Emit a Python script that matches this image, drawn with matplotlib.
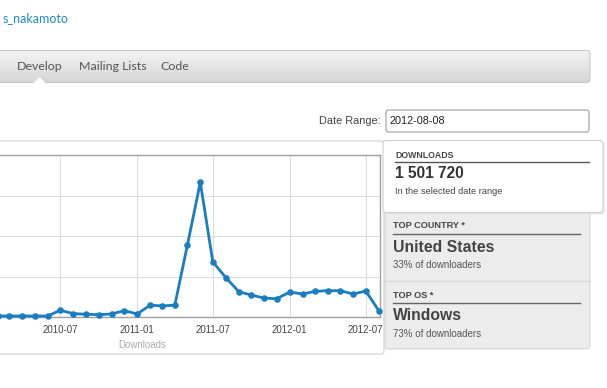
import numpy as np
import matplotlib
matplotlib.use("Agg")
import matplotlib.pyplot as plt
import matplotlib.dates as mdates
from matplotlib.patches import FancyBboxPatch, Polygon
from matplotlib.colors import LinearSegmentedColormap
from datetime import date

# monthly downloads (first of each month)
months = ["2010-01", "2010-02", "2010-03", "2010-04", "2010-05", "2010-06",
          "2010-07", "2010-08", "2010-09", "2010-10", "2010-11", "2010-12",
          "2011-01", "2011-02", "2011-03", "2011-04", "2011-05", "2011-06",
          "2011-07", "2011-08", "2011-09", "2011-10", "2011-11", "2011-12",
          "2012-01", "2012-02", "2012-03", "2012-04", "2012-05", "2012-06",
          "2012-07", "2012-08"]
downloads = [2500, 2500, 2500, 2500, 2500, 2500,
             16700, 8300, 6700, 5800, 7500, 15800,
             7500, 29200, 27500, 29200, 176700, 332500,
             135800, 97500, 62500, 54200, 46700, 45000,
             61700, 56700, 63300, 65000, 65000, 56700,
             64200, 15800]
tick_labels = ["2010-07", "2011-01", "2011-07", "2012-01", "2012-07"]

user = "s_nakamoto"
nav_items = ["Develop", "Mailing Lists", "Code"]
date_range = "2012-08-08"
total_downloads = "1 501 720"
top_country, country_share = "United States", "33% of downloaders"
top_os, os_share = "Windows", "73% of downloaders"

W, H = 607, 388
fig = plt.figure(figsize=(W / 100, H / 100), dpi=100)
fig.patch.set_facecolor("white")

# page layer in pixel coordinates
bg = fig.add_axes([0, 0, 1, 1])
bg.set_xlim(0, W)
bg.set_ylim(H, 0)
bg.axis("off")

SANS = ["Liberation Sans", "DejaVu Sans"]
NAV = ["Lato", "DejaVu Sans"]

bg.text(3, 18, user, color="#1f8ac4", fontsize=9, family=NAV, va="center")

# nav bar with gradient
nav = FancyBboxPatch((-20, 50.5), 610, 32, boxstyle="round,pad=0,rounding_size=3",
                     facecolor="none", edgecolor="#c8c8c8", lw=0.8, zorder=3)
bg.add_patch(nav)
grad = np.linspace(0, 1, 64).reshape(-1, 1)
im = bg.imshow(grad, extent=(-20, 590, 82.5, 50.5),
               cmap=LinearSegmentedColormap.from_list("nav", ["#f4f4f4", "#d6d6d6"]),
               aspect="auto", zorder=2)
im.set_clip_path(nav)
bg.add_patch(Polygon([[33, 83.5], [39.5, 77], [46, 83.5]], closed=True,
                     facecolor="white", edgecolor="none", zorder=4))
for label, x in zip(nav_items, [17, 79, 160]):
    bg.text(x, 67, label, color="#555555", fontsize=8.9, family=NAV, va="center")

# date range
bg.text(381, 121, "Date Range:", color="#444444", fontsize=7.9, family=SANS,
        va="center", ha="right")
bg.add_patch(FancyBboxPatch((386, 110), 203, 22, boxstyle="round,pad=0,rounding_size=2.5",
                            facecolor="white", edgecolor="#a8a8a8", lw=0.9))
bg.text(390, 121.5, date_range, color="#222222", fontsize=7.8, family=SANS, va="center")

# chart panel
bg.add_patch(FancyBboxPatch((-10, 141), 394, 213, boxstyle="round,pad=0,rounding_size=3",
                            facecolor="white", edgecolor="#d0d0d0", lw=0.8))
bg.text(142, 345, "Downloads", color="#aaaaaa", fontsize=7, family=SANS,
        ha="center", va="center")

# stats boxes
bg.add_patch(FancyBboxPatch((385, 205), 205, 144, boxstyle="round,pad=0,rounding_size=3",
                            facecolor="#ececec", edgecolor="#d6d6d6", lw=0.8))
bg.plot([385, 590], [280.5, 280.5], color="#d9d9d9", lw=0.8)
bg.add_patch(FancyBboxPatch((384.5, 142.5), 220, 72, boxstyle="round,pad=0,rounding_size=3",
                            facecolor="#e4e4e4", edgecolor="none", zorder=3))
bg.add_patch(FancyBboxPatch((383, 140.5), 220, 72, boxstyle="round,pad=0,rounding_size=3",
                            facecolor="white", edgecolor="#d0d0d0", lw=0.8, zorder=3))
bg.text(395, 155, "DOWNLOADS", color="#444444", fontsize=6.3, weight="bold",
        family=SANS, va="center", zorder=4)
bg.plot([395, 589], [162, 162], color="#555555", lw=1.0, zorder=4)
bg.text(395, 174, total_downloads, color="#333333", fontsize=11.2, weight="bold",
        family=SANS, va="center", zorder=4)
bg.text(395, 192, "In the selected date range", color="#444444", fontsize=6.7,
        family=SANS, va="center", zorder=4)

for y0, title, value, share in [(226, "TOP COUNTRY *", top_country, country_share),
                                (295, "TOP OS *", top_os, os_share)]:
    bg.text(393, y0, title, color="#444444", fontsize=6.6, weight="bold",
            family=SANS, va="center")
    bg.plot([393, 580], [y0 + 8, y0 + 8], color="#666666", lw=1.0)
    bg.text(393, y0 + 21, value, color="#444444", fontsize=11.3, weight="bold",
            family=SANS, va="center")
    bg.text(393, y0 + 39, share, color="#555555", fontsize=7, family=SANS, va="center")

# the chart itself
ax = fig.add_axes([-40 / W, (H - 317) / H, 420 / W, 162 / H])
x = [mdates.date2num(date(int(m[:4]), int(m[5:]), 1)) for m in months]
ax.plot(x, downloads, color="#1a7dc0", lw=2.0, marker="o", markersize=3.7,
        solid_joinstyle="round", zorder=3, clip_on=False)
ax.set_xlim(mdates.date2num(date(2009, 11, 3)), mdates.date2num(date(2012, 8, 4)))
ax.set_ylim(0, 400000)
ax.set_yticks([0, 100000, 200000, 300000, 400000])
ax.set_yticklabels([])
ticks = [mdates.date2num(date(int(t[:4]), int(t[5:]), 1)) for t in tick_labels]
ax.set_xticks(ticks)
ax.set_xticklabels(tick_labels, color="#444444", fontsize=7, family=SANS)
ax.tick_params(length=0, pad=6)
ax.grid(True, color="#dddddd", lw=0.8)
ax.set_axisbelow(True)
for s in ["top", "right", "bottom"]:
    ax.spines[s].set_color("#a0a0a0")
    ax.spines[s].set_linewidth(1.0)
ax.spines["left"].set_visible(False)

fig.savefig("out.png", dpi=100)
